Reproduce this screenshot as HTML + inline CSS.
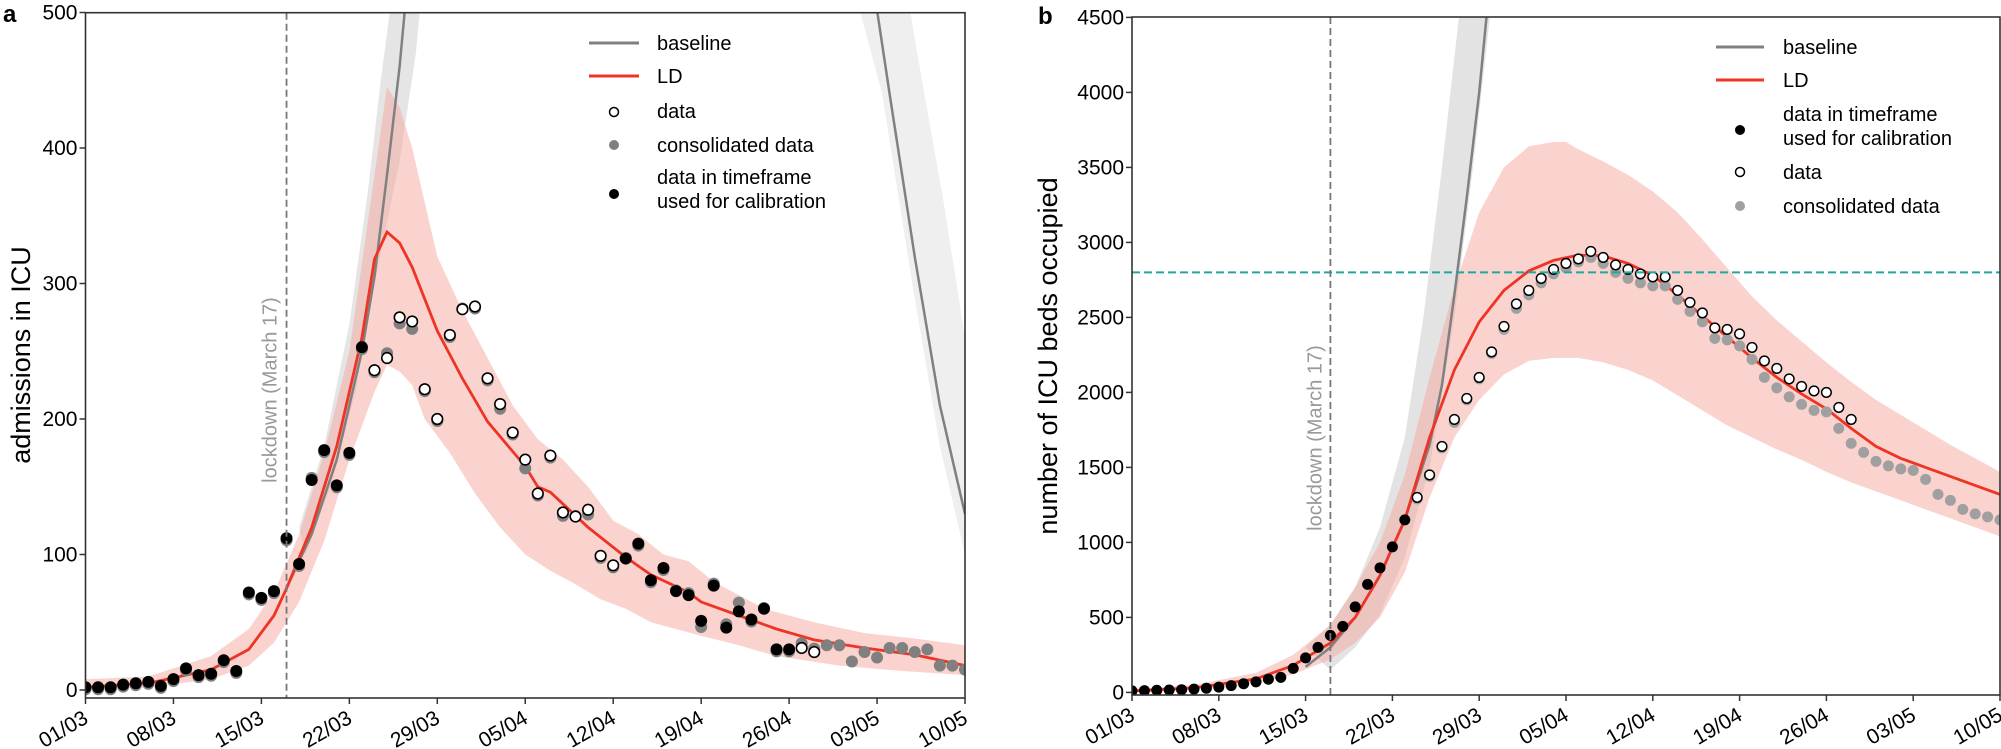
<!DOCTYPE html>
<html><head><meta charset="utf-8"><style>
html,body{margin:0;padding:0;background:#fff;}
svg{display:block;font-family:"Liberation Sans",Arial,sans-serif;}
</style></head><body>
<svg id="s" width="2001" height="749" viewBox="0 0 2001 749" xmlns="http://www.w3.org/2000/svg"></svg>
<script>
const S=document.getElementById('s');
let out='';
function add(t){out+=t;}
function path(pts,X,Y){return pts.map((p,i)=>(i?'L':'M')+X(p[0]).toFixed(1)+','+Y(p[1]).toFixed(1)).join('');}
function band(up,lo,X,Y){let s=path(up,X,Y);for(let i=lo.length-1;i>=0;i--)s+='L'+X(lo[i][0]).toFixed(1)+','+Y(lo[i][1]).toFixed(1);return s+'Z';}
const dates=['01/03','08/03','15/03','22/03','29/03','05/04','12/04','19/04','26/04','03/05','10/05'];

// ---------- Panel A ----------
(function(){
const x0=85.5,x1=965,yt=12.7,yb=698;
const X=d=>x0+d*(x1-x0)/70, Y=v=>690-1.355*v;
add(`<defs><clipPath id="ca"><rect x="${x0}" y="${yt}" width="${x1-x0}" height="${yb-yt}"/></clipPath><clipPath id="cb"><rect x="1132" y="17" width="868" height="678"/></clipPath></defs>`);
add('<g clip-path="url(#ca)">');
const bl=[[16,75],[18,115],[20,170],[22,250],[23,305],[24,380],[25,460],[25.6,520]];
const blU=[[17,120],[19,180],[21,270],[22.5,370],[23.5,450],[24.5,520]];
const blL=[[17.5,100],[19.5,150],[21.5,220],[23,300],[25,390],[26.3,470],[26.8,520]];
add(`<path d="${band(blU,blL,X,Y)}" fill="#dcdcdc" opacity="0.75"/>`);
const br=[[62.7,520],[64,440],[66,320],[68,210],[70,130]];
add(`<path d="M${X(61.1)},${Y(520)}L${X(63.4)},${Y(440)}L${X(65.8)},${Y(300)}L${X(68)},${Y(180)}L${X(70)},${Y(100)}L${X(70)},${Y(260)}L${X(68.3)},${Y(360)}L${X(66.2)},${Y(470)}L${X(65.3)},${Y(520)}Z" fill="#efefef"/>`);
const up=[[0,8],[5,10],[10,25],[13,45],[15,72],[17,115],[19,175],[21,250],[23,380],[24,445],[25,430],[26,400],[27,360],[28,320],[30,280],[32,245],[34,210],[36,185],[38,170],[40,150],[42,125],[44,115],[46,100],[48,95],[50,80],[52,70],[54,60],[56,55],[58,50],[62,42],[66,38],[70,33]];
const lo=[[0,0],[5,2],[10,8],[13,18],[15,35],[17,65],[19,110],[21,170],[23,220],[24,240],[25,235],[26,225],[27,200],[29,175],[31,145],[33,120],[35,100],[37,88],[39,78],[41,67],[43,60],[45,50],[47,45],[49,40],[52,33],[55,25],[60,18],[65,14],[70,11]];
add(`<path d="${band(up,lo,X,Y)}" fill="#f5a8a0" opacity="0.5"/>`);
add(`<path d="${path(bl,X,Y)}" fill="none" stroke="#808080" stroke-width="2.5"/>`);
add(`<path d="${path(br,X,Y)}" fill="none" stroke="#808080" stroke-width="2.5"/>`);
const ld=[[0,2],[5,5],[10,15],[13,30],[15,55],[16,75],[18,120],[20,180],[22,260],[23,318],[24,338],[25,330],[26,312],[28,265],[30,230],[32,198],[35,165],[36,150],[37,146],[40,120],[43,98],[45,85],[48,72],[49,65],[52,55],[55,45],[58,37],[62,31],[66,26],[70,18]];
add(`<path d="${path(ld,X,Y)}" fill="none" stroke="#ee3424" stroke-width="2.8"/>`);
const v=[2,2,2,4,5,6,3,8,16,11,12,22,14,72,68,73,112,93,155,177,151,175,253,236,245,275,272,222,200,262,281,283,230,211,190,170,145,173,131,128,133,99,92,97,108,81,90,73,70,51,77,46,58,52,60,30,30,31,28,33,33,21,28,24,31,31,28,30,18,18,15];
const g={18:158,24:250,25:272,26:268,30:283,33:209,35:165,38:130,39:130,40:131,43:99,47:75,48:73,49:48,50:80,51:50,52:66,54:62,57:36,58:32};
for(let d=0;d<=70;d++){ if(d<=58){const gv=(g[d]!==undefined)?g[d]:v[d]; add(`<circle cx="${X(d)}" cy="${Y(gv)+2}" r="6" fill="#808080"/>`);} }
for(let d=0;d<=70;d++){
 if(d<=22||(d>=43&&d<=56)) add(`<circle cx="${X(d)}" cy="${Y(v[d])}" r="6" fill="#000"/>`);
 else if(d<=58) add(`<circle cx="${X(d)}" cy="${Y(v[d])}" r="5.3" fill="#fff" stroke="#000" stroke-width="1.6"/>`);
 else add(`<circle cx="${X(d)}" cy="${Y(v[d])}" r="6" fill="#808080"/>`);
}
add('</g>');
add(`<line x1="${X(16)}" y1="${yt}" x2="${X(16)}" y2="${yb}" stroke="#777" stroke-width="1.8" stroke-dasharray="7,4"/>`);
add(`<text transform="translate(${X(16)-10},390) rotate(-90)" text-anchor="middle" font-size="20" fill="#999">lockdown (March 17)</text>`);
add(`<rect x="${x0}" y="${yt}" width="${x1-x0}" height="${yb-yt}" fill="none" stroke="#333" stroke-width="1.6"/>`);
for(let i=0;i<=5;i++){const y=Y(i*100);add(`<line x1="${x0-6}" y1="${y}" x2="${x0}" y2="${y}" stroke="#333" stroke-width="1.5"/><text x="${x0-8}" y="${y+7}" text-anchor="end" font-size="21">${i*100}</text>`);}
dates.forEach((t,i)=>{const x=X(i*7);add(`<line x1="${x}" y1="${yb}" x2="${x}" y2="${yb+6}" stroke="#333" stroke-width="1.5"/><text transform="translate(${x+4},${yb+24}) rotate(-30)" text-anchor="end" font-size="21">${t}</text>`);});
add(`<text transform="translate(30,355) rotate(-90)" text-anchor="middle" font-size="27">admissions in ICU</text>`);
add(`<text x="3" y="22" font-size="24" font-weight="bold">a</text>`);
add(`<line x1="589" y1="43" x2="639" y2="43" stroke="#808080" stroke-width="3"/><text x="657" y="50" font-size="20">baseline</text>`);
add(`<line x1="589" y1="76" x2="639" y2="76" stroke="#ee3424" stroke-width="3"/><text x="657" y="83" font-size="20">LD</text>`);
add(`<circle cx="614" cy="112" r="4.5" fill="#fff" stroke="#000" stroke-width="1.5"/><text x="657" y="118" font-size="20">data</text>`);
add(`<circle cx="614" cy="145" r="5" fill="#808080"/><text x="657" y="152" font-size="20">consolidated data</text>`);
add(`<circle cx="614" cy="194" r="5" fill="#000"/><text x="657" y="184" font-size="20">data in timeframe</text><text x="657" y="208" font-size="20">used for calibration</text>`);
})();

// ---------- Panel B ----------
(function(){
const x0=1132,x1=2000,yt=17,yb=695;
const X=d=>x0+d*(x1-x0)/70, Y=v=>692.4-0.15*v;
add('<g clip-path="url(#cb)">');
const bU=[[14,300],[16,450],[18,700],[20,1100],[22,1700],[23.5,2500],[25,3500],[26.5,4600],[27,4800]];
const bL=[[16,150],[18,300],[20,520],[22,900],[24,1500],[26,2500],[27.5,3500],[29,4600],[29.5,4800]];
add(`<path d="${band(bU,bL,X,Y)}" fill="#dcdcdc" opacity="0.8"/>`);
const up=[[0,20],[5,50],[10,130],[13,250],[16,450],[18,700],[20,1000],[22,1450],[24,2100],[26,2700],[28,3200],[30,3500],[32,3640],[34,3670],[35,3670],[36,3620],[38,3540],[40,3450],[42,3340],[44,3200],[46,3020],[48,2830],[50,2640],[52,2480],[54,2340],[56,2200],[58,2070],[60,1950],[62,1850],[64,1750],[66,1650],[68,1560],[70,1470]];
const lo=[[0,0],[5,15],[10,60],[13,120],[16,220],[18,330],[20,500],[22,800],[24,1300],[26,1700],[28,1950],[30,2120],[32,2210],[34,2230],[36,2230],[38,2200],[40,2150],[42,2080],[44,1980],[46,1880],[48,1780],[50,1700],[52,1620],[54,1550],[56,1470],[58,1400],[60,1340],[62,1280],[64,1220],[66,1160],[68,1100],[70,1040]];
add(`<path d="${band(up,lo,X,Y)}" fill="#f5a8a0" opacity="0.5"/>`);
const bl=[[14,170],[16,300],[18,500],[20,780],[22,1150],[24,1650],[25,2050],[26,2650],[27,3300],[28,4000],[28.7,4600]];
add(`<path d="${path(bl,X,Y)}" fill="none" stroke="#808080" stroke-width="2.5"/>`);
const ld=[[0,10],[5,30],[10,90],[13,180],[16,330],[18,500],[20,780],[22,1150],[24,1700],[26,2150],[28,2470],[30,2680],[32,2810],[34,2880],[36,2915],[38,2910],[40,2860],[42,2780],[44,2650],[46,2510],[48,2370],[50,2230],[52,2100],[54,1990],[56,1890],[58,1760],[60,1640],[62,1560],[64,1500],[66,1440],[68,1380],[70,1320]];
add(`<path d="${path(ld,X,Y)}" fill="none" stroke="#ee3424" stroke-width="2.8"/>`);
const blk=[10,12,14,16,18,22,28,35,45,58,70,88,100,160,230,300,380,440,570,720,830,970,1150];
const op=[1300,1450,1640,1820,1960,2100,2270,2440,2590,2680,2760,2820,2860,2890,2940,2900,2850,2820,2790,2770,2770,2680,2600,2530,2430,2420,2390,2300,2210,2160,2090,2040,2010,2000,1900,1820];
const gr=[1290,1440,1630,1800,1950,2090,2260,2420,2560,2650,2730,2790,2830,2870,2900,2860,2800,2760,2730,2710,2710,2620,2540,2470,2360,2350,2310,2220,2100,2030,1970,1920,1880,1870,1760,1660,1600,1540,1510,1490,1480,1420,1320,1280,1220,1190,1170,1150];
gr.forEach((v,i)=>add(`<circle cx="${X(23+i)}" cy="${Y(v)}" r="5.5" fill="#a0a0a0"/>`));
blk.forEach((v,i)=>add(`<circle cx="${X(i)}" cy="${Y(v)}" r="5.5" fill="#000"/>`));
op.forEach((v,i)=>add(`<circle cx="${X(23+i)}" cy="${Y(v)}" r="4.8" fill="#fff" stroke="#000" stroke-width="1.5"/>`));
add('</g>');
add(`<line x1="${x0}" y1="${Y(2800)}" x2="${x1}" y2="${Y(2800)}" stroke="#20a8a0" stroke-width="2" stroke-dasharray="8,4"/>`);
add(`<line x1="${X(16)}" y1="${yt}" x2="${X(16)}" y2="${yb}" stroke="#777" stroke-width="1.8" stroke-dasharray="7,4"/>`);
add(`<text transform="translate(${X(16)-9},438) rotate(-90)" text-anchor="middle" font-size="20" fill="#999">lockdown (March 17)</text>`);
add(`<rect x="${x0}" y="${yt}" width="${x1-x0}" height="${yb-yt}" fill="none" stroke="#333" stroke-width="1.6"/>`);
for(let i=0;i<=9;i++){const y=Y(i*500);add(`<line x1="${x0-6}" y1="${y}" x2="${x0}" y2="${y}" stroke="#333" stroke-width="1.5"/><text x="${x0-8}" y="${y+7}" text-anchor="end" font-size="21">${i*500}</text>`);}
dates.forEach((t,i)=>{const x=X(i*7);add(`<line x1="${x}" y1="${yb}" x2="${x}" y2="${yb+6}" stroke="#333" stroke-width="1.5"/><text transform="translate(${x+4},${yb+24}) rotate(-30)" text-anchor="end" font-size="21">${t}</text>`);});
add(`<text transform="translate(1057,356) rotate(-90)" text-anchor="middle" font-size="27">number of ICU beds occupied</text>`);
add(`<text x="1038" y="24" font-size="24" font-weight="bold">b</text>`);
add(`<line x1="1716" y1="47" x2="1764" y2="47" stroke="#808080" stroke-width="3"/><text x="1783" y="54" font-size="20">baseline</text>`);
add(`<line x1="1716" y1="80" x2="1764" y2="80" stroke="#ee3424" stroke-width="3"/><text x="1783" y="87" font-size="20">LD</text>`);
add(`<circle cx="1740" cy="130" r="5" fill="#000"/><text x="1783" y="121" font-size="20">data in timeframe</text><text x="1783" y="145" font-size="20">used for calibration</text>`);
add(`<circle cx="1740" cy="172" r="4.5" fill="#fff" stroke="#000" stroke-width="1.5"/><text x="1783" y="179" font-size="20">data</text>`);
add(`<circle cx="1740" cy="206" r="5" fill="#a0a0a0"/><text x="1783" y="213" font-size="20">consolidated data</text>`);
})();
S.innerHTML=out;
</script>
</body></html>
